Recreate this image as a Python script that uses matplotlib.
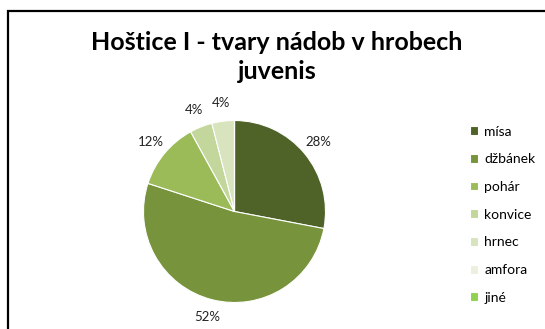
import matplotlib
matplotlib.use("Agg")
import matplotlib.pyplot as plt
from matplotlib.patches import Rectangle

plt.rcParams['font.family'] = ['Lato', 'DejaVu Sans']

# data: number of vessels per shape (Hoštice I, juvenis)
categories = ['mísa', 'džbánek', 'pohár', 'konvice', 'hrnec', 'amfora', 'jiné']
counts = [7, 13, 3, 1, 1, 0, 0]
colors = ['#4F6228', '#77933C', '#9BBB59', '#C3D69B', '#D7E4BD', '#EBF1DE', '#92D050']
title = 'Hoštice I - tvary nádob v hrobech\njuvenis'

W, H = 545, 329
fig = plt.figure(figsize=(W / 100, H / 100), dpi=100)
ax = fig.add_axes([0, 0, 1, 1])


def pct(p):
    return '%d%%' % round(p) if p > 0.5 else ''


# pie centre / radius in pixel units (y measured from bottom)
cx, cy, r = 234.5, H - 211.5, 91
wedges, texts, autotexts = ax.pie(
    counts, colors=colors, startangle=90, counterclock=False,
    center=(cx, cy), radius=r, autopct=pct, pctdistance=1.2,
    wedgeprops=dict(edgecolor='white', linewidth=0.8),
    textprops=dict(fontsize=9.5, color='#222222'))

ax.set_xlim(0, W)
ax.set_ylim(0, H)
ax.set_aspect('equal')
ax.axis('off')

# chart frame (cut off at the right and bottom)
ax.add_patch(Rectangle((7.5, -5), W, H - 10.5 + 5, fill=False,
                       edgecolor='black', linewidth=1.6, clip_on=False))

ax.text(277, H - 57, title, ha='center', va='center', fontsize=18,
        fontweight='bold', linespacing=1.3, color='black')

ax.legend(wedges, categories, loc='upper left',
          bbox_to_anchor=(464 / W, 1 - 120 / H), frameon=False,
          fontsize=10, handlelength=0.6, handleheight=0.6,
          handletextpad=0.45, labelspacing=1.13, borderaxespad=0)

fig.savefig('out.png', dpi=100)
